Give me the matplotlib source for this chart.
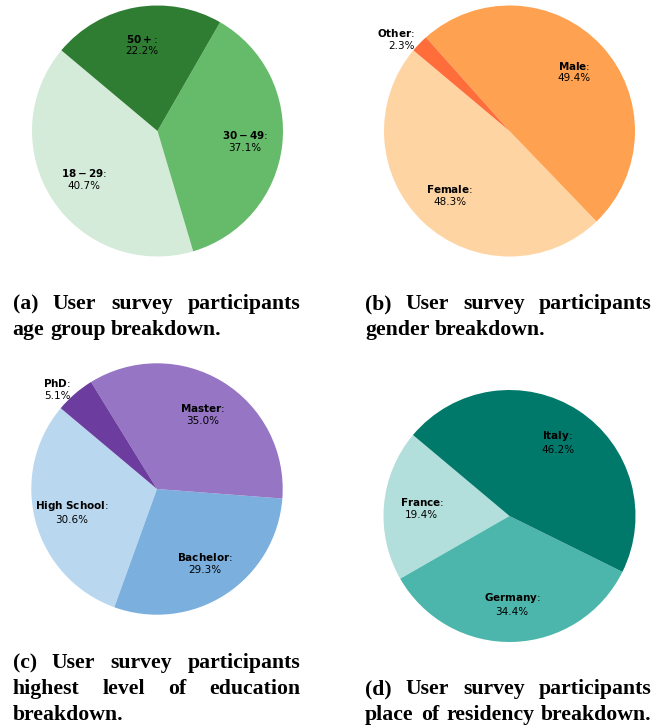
import numpy as np
import matplotlib
matplotlib.use('Agg')
import matplotlib.pyplot as plt

W, H = 655, 728

# data (percent of participants)
age_labels = ['18-29', '30-49', '50+']
age_values = [40.7, 37.1, 22.2]
age_colors = ['#d4ebd9', '#66bb6a', '#2e7d32']

gender_labels = ['Female', 'Male', 'Other']
gender_values = [48.3, 49.4, 2.3]
gender_colors = ['#fed4a2', '#fea150', '#ff6e3a']

edu_labels = ['High School', 'Bachelor', 'Master', 'PhD']
edu_values = [30.6, 29.3, 35.0, 5.1]
edu_colors = ['#b9d8f0', '#7bafde', '#9575c4', '#6c3d9e']

country_labels = ['France', 'Germany', 'Italy']
country_values = [19.4, 34.4, 46.2]
country_colors = ['#b2dfdb', '#4db6ac', '#00796b']

cap_a = ['(a) User survey participants', 'age group breakdown.']
cap_b = ['(b) User survey participants', 'gender breakdown.']
cap_c = ['(c) User survey participants', 'highest level of education', 'breakdown.']
cap_d = ['(d) User survey participants', 'place of residency breakdown.']

fig = plt.figure(figsize=(W / 100, H / 100), dpi=100)
renderer = fig.canvas.get_renderer()


def draw_pie(cx, cy, r, labels, values, colors):
    ax = fig.add_axes([(cx - r) / W, 1 - (cy + r) / H, 2 * r / W, 2 * r / H])
    wedges, _ = ax.pie(values, colors=colors, startangle=140, radius=1)
    ax.set_xlim(-1, 1)
    ax.set_ylim(-1, 1)
    ax.axis('off')
    for w, lab, v in zip(wedges, labels, values):
        ang = np.deg2rad((w.theta1 + w.theta2) / 2)
        txt = r'$\bf{' + lab.replace(' ', r'\ ') + '}$:\n' + '%.1f%%' % v
        if v < 6:
            d = 1.05
            ha = 'right' if np.cos(ang) < 0 else 'left'
        else:
            d = 0.7
            ha = 'center'
        ax.text(d * np.cos(ang), d * np.sin(ang), txt, ha=ha, va='center',
                fontsize=7.5, color='black')


def text_width(s, size):
    t = fig.text(0, 0, s, fontsize=size, family='Liberation Serif', weight='bold')
    w = t.get_window_extent(renderer).width
    t.remove()
    return w


# fit caption size to the unjustified line of (a)
cap_size = 15.5 * 209 / text_width('age group breakdown.', 15.5)
space = text_width('a a', cap_size) - text_width('aa', cap_size)


def caption(lines, x0, x1, y0, last_full=False):
    for i, line in enumerate(lines):
        words = line.split()
        widths = [text_width(w, cap_size) for w in words]
        full = i < len(lines) - 1 or last_full
        gap = (x1 - x0 - sum(widths)) / (len(words) - 1) if full and len(words) > 1 else space
        x = x0
        for w, wd in zip(words, widths):
            fig.text(x / W, 1 - (y0 + i * 25.8) / H, w, fontsize=cap_size,
                     family='Liberation Serif', weight='bold', ha='left', va='baseline')
            x += wd + gap


draw_pie(157.5, 131, 125.5, age_labels, age_values, age_colors)
draw_pie(509.5, 131, 125.5, gender_labels, gender_values, gender_colors)
draw_pie(157, 489, 125.7, edu_labels, edu_values, edu_colors)
draw_pie(509.5, 516, 126, country_labels, country_values, country_colors)

caption(cap_a, 12.7, 300, 309)
caption(cap_b, 365, 651.7, 309)
caption(cap_c, 12.7, 300, 668.3)
caption(cap_d, 365, 651.7, 694.3, last_full=True)

fig.savefig('out.png', dpi=100)
